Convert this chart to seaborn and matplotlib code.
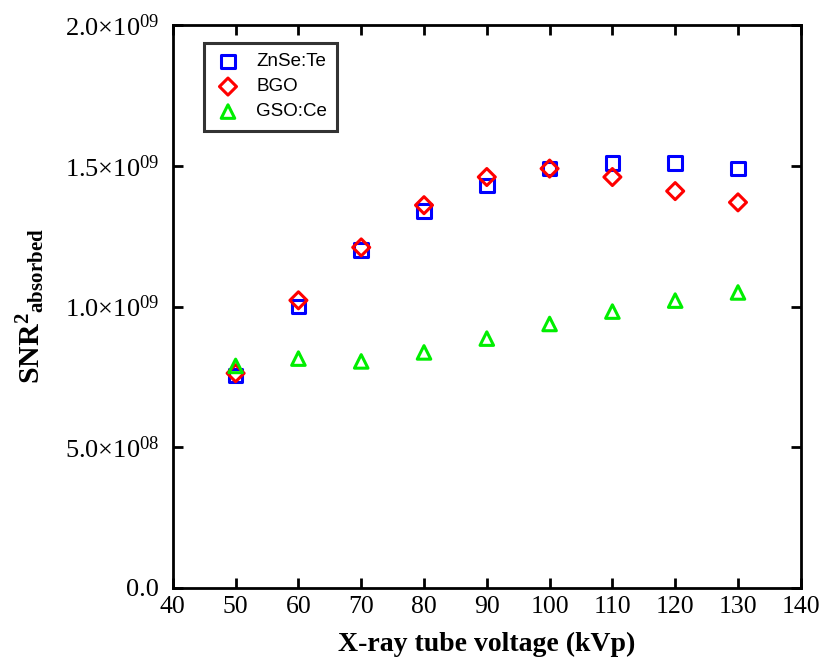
import matplotlib
matplotlib.use("Agg")
import matplotlib.pyplot as plt
import seaborn as sns
import numpy as np
from matplotlib.ticker import FixedLocator

voltage = [50, 60, 70, 80, 90, 100, 110, 120, 130]
znse_te = [0.755e9, 1.00e9, 1.20e9, 1.34e9, 1.43e9, 1.49e9, 1.51e9, 1.51e9, 1.49e9]
bgo = [0.763e9, 1.022e9, 1.21e9, 1.36e9, 1.46e9, 1.49e9, 1.46e9, 1.41e9, 1.37e9]
gso_ce = [0.789e9, 0.815e9, 0.805e9, 0.837e9, 0.886e9, 0.938e9, 0.982e9, 1.021e9, 1.050e9]
series_names = ["ZnSe:Te", "BGO", "GSO:Ce"]
x_ticks = [40, 50, 60, 70, 80, 90, 100, 110, 120, 130, 140]
y_ticks = [0.0, 0.5e9, 1.0e9, 1.5e9, 2.0e9]
y_tick_labels = ["0.0", r"$5.0{\times}10^{08}$", r"$1.0{\times}10^{09}$",
                 r"$1.5{\times}10^{09}$", r"$2.0{\times}10^{09}$"]

sns.set_style("white")
plt.rcParams["font.family"] = ["Liberation Serif", "DejaVu Serif"]
plt.rcParams["mathtext.fontset"] = "custom"
plt.rcParams["mathtext.rm"] = "Liberation Serif"
plt.rcParams["mathtext.it"] = "Liberation Serif:italic"
plt.rcParams["mathtext.bf"] = "Liberation Serif:bold"
plt.rcParams["text.color"] = "black"
plt.rcParams["axes.labelcolor"] = "black"
plt.rcParams["xtick.color"] = "black"
plt.rcParams["ytick.color"] = "black"

fig = plt.figure(figsize=(8.23, 6.71), dpi=100)
ax = fig.add_axes([0.210, 0.1237, 0.763, 0.839])

styles = [("s", "#0000ff", 95), ("D", "#ff0000", 75), ("^", "#00ee00", 95)]
for name, vals, (mk, col, sz) in zip(series_names, [znse_te, bgo, gso_ce], styles):
    sns.scatterplot(x=voltage, y=vals, ax=ax, marker=mk, s=sz,
                    facecolor="none", edgecolor=col, linewidth=2.2, label=name)
for coll in ax.collections:
    coll.set_facecolor("none")

ax.set_xlim(40, 140)
ax.set_ylim(0, 2.0e9)
ax.xaxis.set_major_locator(FixedLocator(x_ticks))
ax.yaxis.set_major_locator(FixedLocator(y_ticks))
ax.set_xticklabels([str(t) for t in x_ticks])
ax.set_yticklabels(y_tick_labels)
ax.tick_params(direction="in", length=7, width=2, labelsize=18.5,
               top=True, right=True, bottom=True, left=True)
ax.tick_params(axis="y", labelsize=19, pad=10)
ax.tick_params(axis="x", pad=6)
for sp in ax.spines.values():
    sp.set_linewidth(2)
    sp.set_color("black")

ax.set_xlabel("X-ray tube voltage (kVp)", fontsize=20, fontweight="bold", labelpad=10)
ax.set_ylabel(r"$\mathbf{SNR^{2}{}_{absorbed}}$", fontsize=21.5)
ax.yaxis.set_label_coords(-0.20, 0.5)

leg = ax.legend(loc="upper left", bbox_to_anchor=(0.049, 0.968), frameon=True,
                fancybox=False, edgecolor="black",
                prop={"family": "Liberation Sans", "size": 13.5},
                borderpad=0.55, labelspacing=0.42, handletextpad=0.75,
                handlelength=1.5, markerscale=1.0, borderaxespad=0)
leg.get_frame().set_linewidth(2.2)

fig.savefig("out.png", dpi=100)
